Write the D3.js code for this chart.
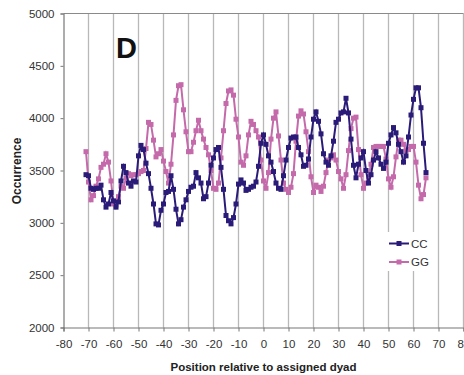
<!DOCTYPE html>
<html><head><meta charset="utf-8">
<script src="https://cdn.jsdelivr.net/npm/d3@7"></script>
<style>body{margin:0;background:#fff}svg{display:block}</style>
</head><body>
<svg id="c" width="464" height="375"></svg>
<script>
const positions = d3.range(-71, 66);
const ccValues = [3460,3450,3330,3320,3330,3330,3360,3220,3150,3180,3290,3210,3150,3200,3400,3540,3480,3380,3350,3400,3390,3640,3740,3700,3570,3470,3330,3180,2990,2980,3120,3180,3290,3300,3450,3320,3130,2990,3030,3150,3220,3300,3340,3350,3480,3430,3380,3230,3250,3380,3550,3620,3700,3720,3530,3320,3070,3020,2990,3050,3180,3370,3410,3380,3310,3320,3340,3350,3390,3540,3760,3840,3750,3640,3580,3490,3380,3330,3320,3450,3600,3720,3810,3820,3820,3720,3650,3540,3550,3610,3820,3990,4060,3970,3850,3660,3580,3550,3640,3780,3960,3990,4050,4060,4190,4050,3800,3550,3430,3560,3620,3680,3500,3380,3460,3600,3680,3620,3560,3520,3580,3760,3840,3910,3860,3750,3680,3580,3640,3820,4030,4180,4290,4290,4100,3760,3480];
const ggValues = [3680,3390,3220,3260,3350,3420,3530,3560,3660,3580,3400,3180,3170,3250,3350,3330,3430,3470,3450,3460,3460,3470,3490,3500,3710,3960,3940,3790,3630,3660,3700,3590,3490,3380,3560,3840,4170,4310,4320,4080,3870,3680,3680,3770,3880,3980,3880,3800,3720,3650,3500,3330,3320,3380,3620,3880,4140,4260,4270,4220,3990,3820,3580,3550,3640,3840,3970,3940,3880,3820,3600,3400,3330,3480,3800,4000,4060,3830,3600,3380,3320,3290,3340,3470,3780,4020,4070,4040,3870,3680,3440,3290,3360,3340,3300,3350,3480,3600,3620,3650,3600,3490,3420,3330,3460,3690,3900,4000,4010,3700,3460,3330,3380,3440,3560,3720,3730,3730,3730,3730,3610,3420,3340,3440,3630,3790,3790,3750,3690,3700,3730,3730,3580,3360,3230,3270,3430];
const xTicks = d3.range(-80, 81, 10);
const yTicks = d3.range(2000, 5001, 500);
const series = [
  {name: "CC", values: ccValues, color: "#2b1b78"},
  {name: "GG", values: ggValues, color: "#c46aab"}
];

const svg = d3.select("#c");
const L = 63.5, R = 463.5, T = 13.5, B = 327.5;
const x = d3.scaleLinear().domain([-80, 80]).range([L, R]);
const y = d3.scaleLinear().domain([2000, 5000]).range([B, T]);
const font = "'Liberation Sans', Arial, sans-serif";

// vertical gridlines
svg.append("g").selectAll("line").data(xTicks.filter(d => d > -80)).join("line")
  .attr("x1", d => x(d)).attr("x2", d => x(d)).attr("y1", T).attr("y2", B)
  .attr("stroke", "#b8b8b8").attr("stroke-width", 1.3);
// top border
svg.append("line").attr("x1", L).attr("x2", R).attr("y1", T).attr("y2", T)
  .attr("stroke", "#8a8a8a").attr("stroke-width", 1);

// axes
const xAxis = d3.axisBottom(x).tickValues(xTicks).tickSize(4).tickPadding(8).tickFormat(d => String(d));
const gx = svg.append("g").attr("transform", `translate(0,${B})`).call(xAxis);
const yAxis = d3.axisLeft(y).tickValues(yTicks).tickSize(3).tickPadding(6).tickFormat(d => String(d));
const gy = svg.append("g").attr("transform", `translate(${L},0)`).call(yAxis);
[gx, gy].forEach(g => {
  g.select(".domain").attr("stroke", "#777").attr("stroke-width", 1.2);
  g.selectAll(".tick line").attr("stroke", "#777");
  g.selectAll(".tick text").attr("fill", "#333").style("font-family", font).style("font-size", "11.5px");
});
gx.selectAll(".tick text").attr("dy", "0.71em");

// legend background (covers gridlines)
svg.append("rect").attr("x", 386).attr("y", 232).attr("width", 50).attr("height", 39).attr("fill", "#fff");

// series
const line = d3.line().x((d, i) => x(positions[i])).y(d => y(d));
series.slice().reverse().forEach(s => {
  const g = svg.append("g");
  g.append("path").datum(s.values).attr("d", line).attr("fill", "none")
    .attr("stroke", s.color).attr("stroke-width", 2);
  g.selectAll("rect").data(s.values).join("rect")
    .attr("x", (d, i) => x(positions[i]) - 2.5).attr("y", d => y(d) - 2.5)
    .attr("width", 5).attr("height", 5).attr("fill", s.color);
});

// legend
series.forEach((s, i) => {
  const ly = 243.5 + i * 18.5;
  svg.append("line").attr("x1", 389).attr("x2", 409).attr("y1", ly).attr("y2", ly)
    .attr("stroke", s.color).attr("stroke-width", 2);
  svg.append("rect").attr("x", 396.5).attr("y", ly - 2.5).attr("width", 5).attr("height", 5).attr("fill", s.color);
  svg.append("text").attr("x", 411).attr("y", ly + 4).text(s.name)
    .attr("fill", "#333").style("font-family", font).style("font-size", "11.5px");
});

// panel letter
svg.append("text").attr("x", 116).attr("y", 58).text("D")
  .style("font-family", font).style("font-weight", "bold").style("font-size", "29px").attr("fill", "#111");

// axis titles
svg.append("text").attr("x", 263.5).attr("y", 371).attr("text-anchor", "middle")
  .text("Position relative to assigned dyad")
  .style("font-family", font).style("font-weight", "bold").style("font-size", "11.5px").attr("fill", "#222");
svg.append("text").attr("transform", "translate(21,171) rotate(-90)").attr("text-anchor", "middle")
  .text("Occurrence")
  .style("font-family", font).style("font-weight", "bold").style("font-size", "12px").attr("fill", "#222");
</script>
</body></html>
